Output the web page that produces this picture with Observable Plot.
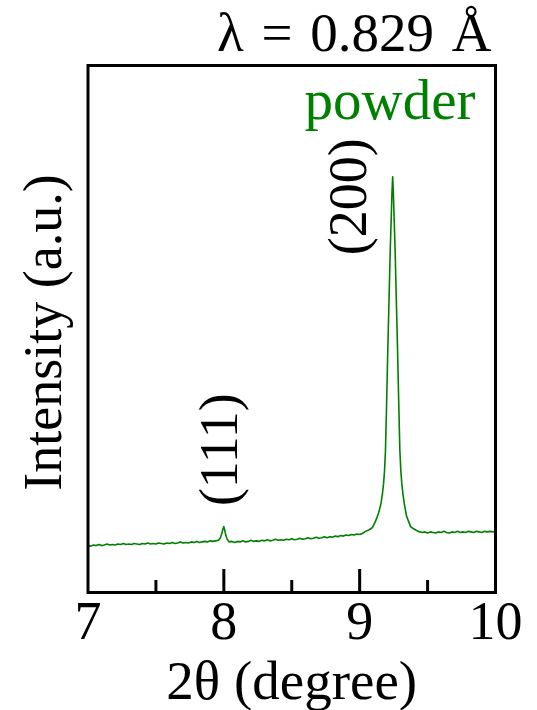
<!DOCTYPE html>
<html>
<head>
<meta charset="utf-8">
<script src="https://cdn.jsdelivr.net/npm/d3@7"></script>
<script src="https://cdn.jsdelivr.net/npm/@observablehq/plot@0.6"></script>
<style>
  html, body { margin: 0; padding: 0; background: #fff; }
  #chart { width: 537px; height: 710px; }
  .lambda-label text { word-spacing: 4px; }
</style>
</head>
<body>
<div id="chart"></div>
<script>
// ---- data ----
const twoTheta = [
  7.00, 7.02, 7.04, 7.06, 7.08, 7.10, 7.12, 7.14, 7.16, 7.18,
  7.20, 7.22, 7.24, 7.26, 7.28, 7.30, 7.32, 7.34, 7.36, 7.38,
  7.40, 7.42, 7.44, 7.46, 7.48, 7.50, 7.52, 7.54, 7.56, 7.58,
  7.60, 7.62, 7.64, 7.66, 7.68, 7.70, 7.72, 7.74, 7.76, 7.78,
  7.80, 7.82, 7.84, 7.86, 7.88, 7.90, 7.92, 7.94,
  7.96, 7.975, 7.985, 7.993, 8.000, 8.007, 8.015, 8.025, 8.04,
  8.06, 8.08, 8.10, 8.12, 8.14, 8.16, 8.18, 8.20, 8.22, 8.24,
  8.26, 8.28, 8.30, 8.32, 8.34, 8.36, 8.38, 8.40, 8.42, 8.44,
  8.46, 8.48, 8.50, 8.52, 8.54, 8.56, 8.58, 8.60, 8.62, 8.64,
  8.66, 8.68, 8.70, 8.72, 8.74, 8.76, 8.78, 8.80, 8.82, 8.84,
  8.86, 8.88, 8.90, 8.92, 8.94, 8.96, 8.98,
  9.00, 9.02, 9.043, 9.07, 9.093, 9.113, 9.127, 9.143, 9.157, 9.167,
  9.176, 9.183, 9.190, 9.198, 9.207, 9.216, 9.225, 9.233, 9.238, 9.243,
  9.248, 9.253, 9.261, 9.270, 9.279, 9.288, 9.296, 9.303, 9.310, 9.319,
  9.330, 9.345, 9.36, 9.375, 9.39, 9.41, 9.43, 9.46,
  9.48, 9.50, 9.52, 9.54, 9.56, 9.58, 9.60, 9.62, 9.64, 9.66,
  9.68, 9.70, 9.72, 9.74, 9.76, 9.78, 9.80, 9.82, 9.84, 9.86,
  9.88, 9.90, 9.92, 9.94, 9.96, 9.98, 10.00
];
const intensity = [
  89, 88, 90, 89, 91, 89, 90, 92, 90, 91,
  90, 92, 91, 93, 91, 92, 91, 93, 92, 91,
  93, 92, 94, 92, 93, 92, 94, 93, 92, 94,
  93, 95, 93, 94, 96, 94, 95, 94, 96, 95,
  97, 95, 96, 97, 96, 98, 97, 98,
  99, 104, 112, 120, 125, 118, 108, 101, 96,
  97, 95, 97, 96, 98, 96, 97, 99, 97, 98,
  97, 99, 98, 100, 98, 99, 101, 99, 100, 99,
  101, 100, 102, 100, 101, 103, 101, 102, 104, 102,
  103, 105, 103, 104, 106, 104, 106, 105, 107, 106,
  108, 107, 109, 108, 110, 109, 111,
  110, 112, 116, 119, 123, 133, 142, 154, 169, 186,
  207, 231, 269, 355, 459, 554, 649, 716, 760, 789,
  760, 716, 649, 554, 459, 355, 269, 231, 207, 186,
  166, 145, 135, 125, 122, 119, 116, 114,
  115, 113, 115, 114, 113, 115, 114, 116, 114, 113,
  115, 114, 116, 114, 115, 114, 116, 115, 114, 116,
  115, 114, 116, 115, 116, 115, 116
];
const xTickLabels = [7, 8, 9, 10];
const majorTicks = [8, 9];
const minorTicks = [7.5, 8.5, 9.5];
const peakNames = ["(111)", "(200)"];
const peakPositions = [8.0, 9.243];
const peakHeights = [125, 789];
const wavelengthLabel = "λ = 0.829 Å";
const sampleLabel = "powder";
const xLabel = "2θ (degree)";
const yLabel = "Intensity (a.u.)";

// ---- build ----
const pattern = twoTheta.map((t, i) => ({t, v: intensity[i]}));
const peaks = peakNames.map((name, i) => ({name, t: peakPositions[i], v: peakHeights[i]}));
const FONT = "Liberation Serif, Times New Roman, serif";
const FS = 54;
const GREEN = "#008000";

const chart = Plot.plot({
  width: 537,
  height: 710,
  marginLeft: 87.5,
  marginRight: 42,
  marginTop: 65,
  marginBottom: 118,
  style: {fontFamily: FONT, background: "#fff", overflow: "visible"},
  x: {domain: [7, 10], axis: null},
  y: {domain: [0, 1000], axis: null},
  marks: [
    Plot.line(pattern, {x: "t", y: "v", stroke: GREEN, strokeWidth: 1.6}),
    Plot.tickX(majorTicks, {x: d => d, insetTop: 527 - 23, stroke: "#000", strokeWidth: 3}),
    Plot.tickX(minorTicks, {x: d => d, insetTop: 527 - 12, stroke: "#000", strokeWidth: 3}),
    Plot.frame({stroke: "#000", strokeWidth: 3}),
    Plot.axisX(xTickLabels, {tickSize: 0, tickPadding: 8, fontSize: FS, fontFamily: FONT, fill: "#000", label: null, tickFormat: d => String(d)}),
    Plot.text([xLabel], {frameAnchor: "bottom", dy: 106, lineAnchor: "bottom", textAnchor: "middle", fontSize: 55, fontFamily: FONT, fill: "#000", text: d => d}),
    Plot.text([yLabel], {frameAnchor: "left", dx: -27.5, dy: 3.5, rotate: -90, lineAnchor: "bottom", textAnchor: "middle", fontSize: FS, fontFamily: FONT, fill: "#000", text: d => d}),
    Plot.text([wavelengthLabel], {className: "lambda-label", frameAnchor: "top-right", dx: -4, dy: -15, lineAnchor: "bottom", textAnchor: "end", fontSize: 55, fontFamily: FONT, fill: "#000", text: d => d}),
    Plot.text([sampleLabel], {frameAnchor: "top-right", dx: -20, dy: 53, lineAnchor: "bottom", textAnchor: "end", fontSize: 57, fontFamily: FONT, fill: GREEN, text: d => d}),
    Plot.text(peaks.filter(p => p.name === "(111)"), {x: "t", y: "v", text: "name", rotate: -90, dx: 13.6, dy: -77, lineAnchor: "bottom", textAnchor: "middle", fontSize: FS, fontFamily: FONT, fill: "#000"}),
    Plot.text(peaks.filter(p => p.name === "(200)"), {x: "t", y: "v", text: "name", rotate: -90, dx: -27, dy: 20, lineAnchor: "bottom", textAnchor: "middle", fontSize: FS, fontFamily: FONT, fill: "#000"})
  ]
});
document.getElementById("chart").appendChild(chart);
</script>
</body>
</html>
